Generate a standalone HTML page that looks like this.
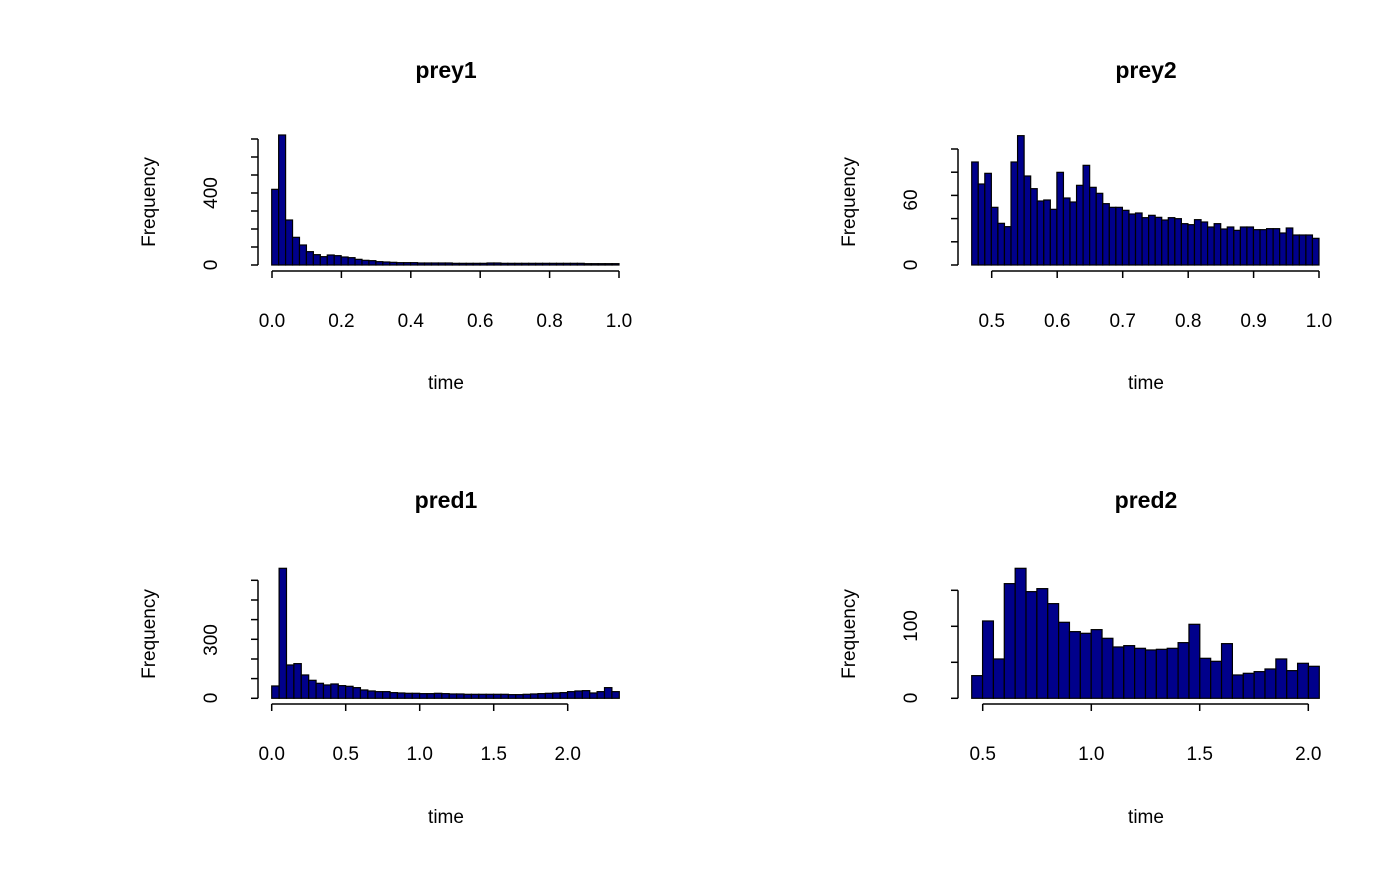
<!DOCTYPE html>
<html><head><meta charset="utf-8"><style>
html,body{margin:0;padding:0;background:#fff}
text{font-family:"Liberation Sans",sans-serif;fill:#000}
</style></head><body>
<svg id="s" width="1400" height="866" xmlns="http://www.w3.org/2000/svg">
<g font-size="16">
<text x="446" y="78" text-anchor="middle" font-size="23" font-weight="bold">prey1</text>
<text x="1146" y="78" text-anchor="middle" font-size="23" font-weight="bold">prey2</text>
<text x="446" y="508" text-anchor="middle" font-size="23" font-weight="bold">pred1</text>
<text x="1146" y="508" text-anchor="middle" font-size="23" font-weight="bold">pred2</text>
<text x="446" y="389" text-anchor="middle" font-size="19">time</text>
<text x="1146" y="389" text-anchor="middle" font-size="19">time</text>
<text x="446" y="823" text-anchor="middle" font-size="19">time</text>
<text x="1146" y="823" text-anchor="middle" font-size="19">time</text>
<text transform="translate(155,202) rotate(-90)" text-anchor="middle" font-size="19">Frequency</text>
<text transform="translate(855,202) rotate(-90)" text-anchor="middle" font-size="19">Frequency</text>
<text transform="translate(155,634) rotate(-90)" text-anchor="middle" font-size="19">Frequency</text>
<text transform="translate(855,634) rotate(-90)" text-anchor="middle" font-size="19">Frequency</text>
</g>
<g id="g"></g>
</svg>
<script>
var g=document.getElementById('g'),h='';
function L(x1,y1,x2,y2){h+='<line x1="'+x1+'" y1="'+y1+'" x2="'+x2+'" y2="'+y2+'" stroke="#000" stroke-width="1.5"/>';}
function T(x,y,t,rot){if(rot)h+='<text transform="translate('+x+','+y+') rotate(-90)" text-anchor="middle" font-size="19">'+t+'</text>';else h+='<text x="'+x+'" y="'+y+'" text-anchor="middle" font-size="19">'+t+'</text>';}
function bars(x0,w,base,tops,zb){for(var i=0;i<tops.length;i++){var ht=(zb-tops[i])/3;h+='<rect x="'+(x0+i*w)+'" y="'+(base-ht)+'" width="'+w+'" height="'+ht+'" fill="#00008b" stroke="#000" stroke-width="1.2"/>';}}
function panel(o){bars(o.x0,o.w,o.base,o.tops,o.zb);
 L(o.yax,o.yt[0],o.yax,o.yt[o.yt.length-1]);o.yt.forEach(function(y){L(o.yax-7,y,o.yax,y)});
 o.yl.forEach(function(p){T(o.yax-41,p[0],p[1],1)});
 L(o.xt[0][0],o.xay,o.xt[o.xt.length-1][0],o.xay);o.xt.forEach(function(p){L(p[0],o.xay,p[0],o.xay+7);T(p[0],o.xay+56,p[1])});}
var p1=[208,45,300,352,375,395,404,410,405,407,411,413,418,421,422,425,426,427,428,428,428,429,429,429,429,429,430,430,430,430,430,429,429,430,430,430,430,430,430,430,430,430,430,430,430,431,431,431,431,431];
panel({x0:271.7,w:347.3/50,base:265,tops:p1,zb:435,yax:258,yt:[265,247,229,211,193,175,157,139],yl:[[265,'0'],[193,'400']],xay:271,xt:[[272,'0.0'],[341.4,'0.2'],[410.8,'0.4'],[480.2,'0.6'],[549.6,'0.8'],[619,'1.0']]});
var p2=[126,192,160,262,310,320,126,47,168,206,243,240,268,157,234,246,196,136,202,220,251,262,262,271,282,279,293,286,292,300,293,296,311,314,299,306,321,311,327,321,331,321,321,329,329,326,326,339,324,345,345,345,355];
panel({x0:971.7,w:347.3/53,base:265,tops:p2,zb:435,yax:958,yt:[265,241.8,218.6,195.4,172.2,149],yl:[[265,'0'],[200,'60']],xay:271,xt:[[991.7,'0.5'],[1057.2,'0.6'],[1122.7,'0.7'],[1188.2,'0.8'],[1253.6,'0.9'],[1319,'1.0']]});
var p3=[393,40,330,326,360,376,385,390,387,392,394,398,405,408,410,410,413,414,415,415,416,416,415,416,417,417,418,418,418,418,418,418,419,419,418,417,416,415,414,413,410,408,407,414,410,398,410];
panel({x0:271.7,w:347.6/47,base:698.3,tops:p3,zb:430,yax:258,yt:[698.3,678.6,659,639.3,619.6,600,580.3],yl:[[698,'0'],[640,'300']],xay:704,xt:[[271.7,'0.0'],[345.7,'0.5'],[419.7,'1.0'],[493.7,'1.5'],[567.7,'2.0']]});
var p4=[362,198,312,86,40,110,101,146,202,230,235,224,250,276,272,280,285,283,280,263,208,310,319,266,360,355,350,342,312,347,325,334];
panel({x0:971.7,w:347.6/32,base:698.3,tops:p4,zb:430,yax:958,yt:[698.3,662.3,626.3,590.3],yl:[[698,'0'],[626,'100']],xay:704,xt:[[982.7,'0.5'],[1091.3,'1.0'],[1199.7,'1.5'],[1308.3,'2.0']]});
g.innerHTML=h;
</script>
</body></html>
